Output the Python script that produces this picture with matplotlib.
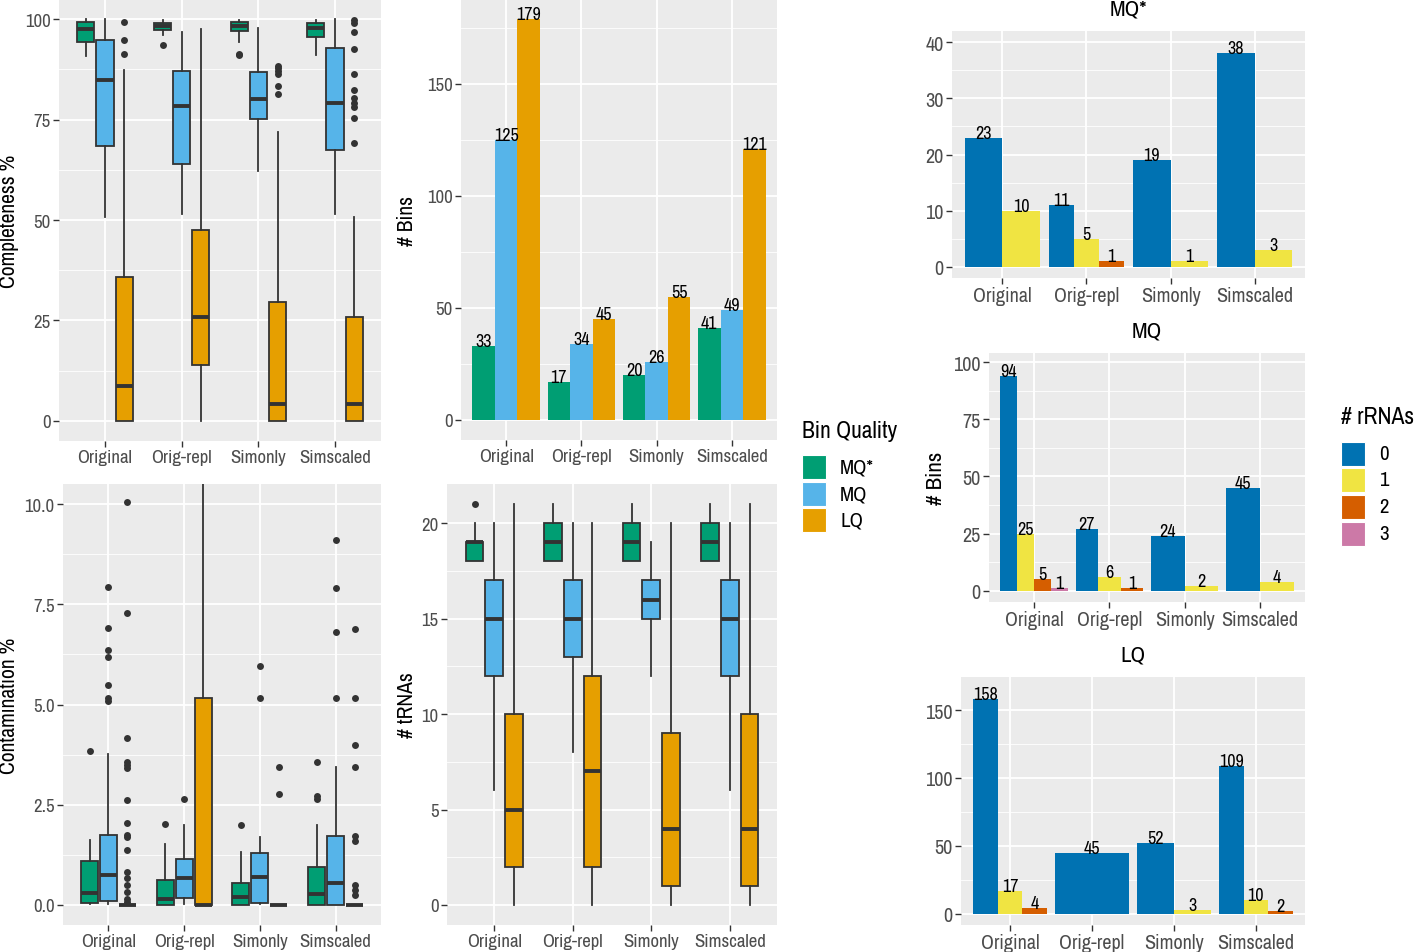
import numpy as np
import matplotlib
matplotlib.use("Agg")
import matplotlib.pyplot as plt
from matplotlib.patches import Rectangle

plt.rcParams["font.family"] = ["Archivo Narrow", "Liberation Sans", "DejaVu Sans"]

W, H = 1416, 953

DATASETS = ["Original", "Orig-repl", "Simonly", "Simscaled"]
QUALITIES = ["MQ*", "MQ", "LQ"]
Q_COLORS = ["#009E73", "#56B4E9", "#E69F00"]
RRNA_LEVELS = ["0", "1", "2", "3"]
RRNA_COLORS = ["#0072B2", "#F0E442", "#D55E00", "#CC79A7"]

# bin counts per quality (MQ*, MQ, LQ) for each dataset
BINS_MQSTAR = [33, 17, 20, 41]
BINS_MQ = [125, 34, 26, 49]
BINS_LQ = [179, 45, 55, 121]

# rRNA counts per dataset: bins with 0, 1, 2, 3 rRNAs (0 = absent)
RRNA_MQSTAR = [[23, 10, 0, 0], [11, 5, 1, 0], [19, 1, 0, 0], [38, 3, 0, 0]]
RRNA_MQ = [[94, 25, 5, 1], [27, 6, 1, 0], [24, 2, 0, 0], [45, 4, 0, 0]]
RRNA_LQ = [[158, 17, 4, 0], [45, 0, 0, 0], [52, 3, 0, 0], [109, 10, 2, 0]]

# box stats per dataset: (q1, median, q3, whisker low, whisker high)
COMPL_MQSTAR = [(94.4, 97.5, 99.3, 90.7, 100.0), (97.3, 98.2, 99.0, 96.0, 99.8),
                (97.1, 98.2, 99.4, 94.4, 99.8), (95.6, 97.9, 99.0, 91.1, 99.8)]
COMPL_MQSTAR_OUT = [[], [93.5], [91.0, 91.4], []]
COMPL_MQ = [(68.3, 84.9, 94.9, 50.7, 100.0), (64.0, 78.3, 87.1, 51.5, 96.9),
            (75.1, 80.1, 86.8, 62.1, 97.8), (67.5, 79.0, 92.8, 51.5, 100.0)]
COMPL_MQ_OUT = [[], [], [], []]
COMPL_LQ = [(0, 8.6, 35.9, 0, 87.3), (13.8, 25.9, 47.4, 0, 97.5),
            (0, 4.1, 29.5, 0, 72.0), (0, 4.1, 25.8, 0, 50.7)]
COMPL_LQ_OUT = [[99.4, 94.9, 91.3], [],
                [88.4, 87.8, 87.1, 86.3, 83.3, 81.3],
                [99.8, 99.0, 96.8, 92.5, 86.3, 82.4, 80.3, 79.2, 78.2, 75.5, 69.2]]

CONT_MQSTAR = [(0.04, 0.29, 1.09, 0.02, 1.63), (0, 0.15, 0.62, 0, 1.53),
               (0, 0.19, 0.54, 0, 1.33), (0, 0.27, 0.94, 0, 1.99)]
CONT_MQSTAR_OUT = [[3.85], [2.01], [1.99], [3.57, 2.71, 2.65]]
CONT_MQ = [(0.11, 0.75, 1.74, 0.02, 3.77), (0.17, 0.66, 1.14, 0.02, 1.99),
           (0.06, 0.70, 1.30, 0.02, 1.70), (0, 0.54, 1.72, 0, 3.44)]
CONT_MQ_OUT = [[7.94, 6.92, 6.36, 6.19, 5.49, 5.17, 5.09], [2.65], [5.95, 5.17],
               [9.11, 7.91, 6.82, 5.17]]
CONT_LQ = [(0, 0, 0, 0, 0), (0, 0, 5.17, 0, 12.9), (0, 0, 0, 0, 0), (0, 0, 0, 0, 0)]
CONT_LQ_OUT = [[10.05, 7.27, 4.17, 3.57, 3.48, 3.42, 2.63, 2.05, 1.74, 1.70, 1.38,
                0.83, 0.66, 0.50, 0.33, 0.14, 0.08],
               [], [3.44, 2.76],
               [6.89, 5.17, 4.0, 3.44, 1.72, 1.59, 0.50, 0.37, 0.25]]

TRNA_MQSTAR = [(18, 19, 19, 18, 20), (18, 19, 20, 18, 21), (18, 19, 20, 18, 21), (18, 19, 20, 18, 21)]
TRNA_MQSTAR_OUT = [[21], [], [], []]
TRNA_MQ = [(12, 15, 17, 6, 20), (13, 15, 17, 8, 20), (15, 16, 17, 12, 19), (12, 15, 17, 6, 20)]
TRNA_MQ_OUT = [[], [], [], []]
TRNA_LQ = [(2, 5, 10, 0, 21), (2, 7, 12, 0, 20), (1, 4, 9, 0, 20), (1, 4, 10, 0, 21)]
TRNA_LQ_OUT = [[], [], [], []]

BG = "#EBEBEB"
DARK = "#333333"
TICK_COL = "#4D4D4D"


def add_panel(fig, l, t, r, b):
    """Axes from pixel box (left, top, right, bottom)"""
    ax = fig.add_axes([l / W, 1 - b / H, (r - l) / W, (b - t) / H])
    ax.set_facecolor(BG)
    for s in ax.spines.values():
        s.set_visible(False)
    ax.set_axisbelow(True)
    return ax


def style_axes(ax, yticks, ylabels, ylim, minor, fs=13.5):
    ax.set_xlim(0.4, 4.6)
    ax.set_xticks(range(1, 5))
    ax.set_xticklabels(DATASETS, fontsize=fs, color=TICK_COL)
    ax.set_ylim(*ylim)
    ax.set_yticks(yticks)
    ax.set_yticklabels(ylabels, fontsize=fs, color=TICK_COL)
    ax.set_yticks(minor, minor=True)
    ax.tick_params(which="major", length=4, width=1, color=DARK, pad=2)
    ax.tick_params(which="minor", length=0)
    ax.grid(which="major", color="white", lw=1.3)
    ax.grid(which="minor", axis="y", color="white", lw=0.6)


def ylabel_at(ax, text, x_px, l, r, fs=15.5):
    ax.set_ylabel(text, fontsize=fs, ha="center", va="center")
    ax.yaxis.set_label_coords((x_px - l) / (r - l), 0.5)


def boxplots(ax, groups):
    for qi, (stats5, outs) in enumerate(groups):
        stats = []
        for (q1, med, q3, lo, hi), fl in zip(stats5, outs):
            stats.append(dict(q1=q1, med=med, q3=q3, whislo=lo, whishi=hi, fliers=fl))
        ax.bxp(stats, positions=np.arange(1, 5) + (qi - 1) * 0.25, widths=0.225,
               patch_artist=True, showcaps=False, manage_ticks=False,
               boxprops=dict(facecolor=Q_COLORS[qi], edgecolor=DARK, lw=1.3),
               medianprops=dict(color=DARK, lw=2.8, solid_capstyle="butt"),
               whiskerprops=dict(color=DARK, lw=1.3),
               flierprops=dict(marker="o", markerfacecolor=DARK, markeredgecolor="none",
                               markersize=5))


def dodge_bars(ax, counts_by_group, colors, fs=13):
    for gi, counts in enumerate(counts_by_group):
        present = [(i, c) for i, c in enumerate(counts) if c > 0]
        n = len(present)
        w = 0.9 / n
        for k, (i, c) in enumerate(present):
            x = gi + 1 - 0.45 + w * (k + 0.5)
            ax.bar(x, c, width=w, color=colors[i], lw=0)
            ax.text(x, c, str(c), ha="center", va="baseline", fontsize=fs, color="black")


fig = plt.figure(figsize=(W / 100, H / 100), dpi=100)

# Completeness
ax = add_panel(fig, 59, 0, 381, 442)
style_axes(ax, [0, 25, 50, 75, 100], ["0", "25", "50", "75", "100"], (-5, 105),
           [12.5, 37.5, 62.5, 87.5])
boxplots(ax, [(COMPL_MQSTAR, COMPL_MQSTAR_OUT), (COMPL_MQ, COMPL_MQ_OUT), (COMPL_LQ, COMPL_LQ_OUT)])
ylabel_at(ax, "Completeness %", 9, 59, 381)

# Number of bins
ax = add_panel(fig, 461, 0, 777, 441)
style_axes(ax, [0, 50, 100, 150], ["0", "50", "100", "150"], (-8.95, 187.95), [25, 75, 125, 175])
bin_counts = [[BINS_MQSTAR[i], BINS_MQ[i], BINS_LQ[i]] for i in range(4)]
dodge_bars(ax, bin_counts, Q_COLORS)
ylabel_at(ax, "# Bins", 407, 461, 777)

# Contamination
ax = add_panel(fig, 63, 485, 381, 926)
style_axes(ax, [0, 2.5, 5, 7.5, 10], ["0.0", "2.5", "5.0", "7.5", "10.0"], (-0.5, 10.5),
           [1.25, 3.75, 6.25, 8.75])
boxplots(ax, [(CONT_MQSTAR, CONT_MQSTAR_OUT), (CONT_MQ, CONT_MQ_OUT), (CONT_LQ, CONT_LQ_OUT)])
ylabel_at(ax, "Contamination %", 9, 63, 381)

# tRNAs
ax = add_panel(fig, 447, 485, 777, 926)
style_axes(ax, [0, 5, 10, 15, 20], ["0", "5", "10", "15", "20"], (-1.05, 22.05),
           [2.5, 7.5, 12.5, 17.5])
boxplots(ax, [(TRNA_MQSTAR, TRNA_MQSTAR_OUT), (TRNA_MQ, TRNA_MQ_OUT), (TRNA_LQ, TRNA_LQ_OUT)])
ylabel_at(ax, "# tRNAs", 407, 447, 777)

# rRNA panels
right_panels = [
    ("MQ*", RRNA_MQSTAR, (952, 32, 1305, 279), [0, 10, 20, 30, 40], (-2, 42), [5, 15, 25, 35], 1128),
    ("MQ", RRNA_MQ, (989, 354, 1305, 603), [0, 25, 50, 75, 100], (-4.95, 103.95), [12.5, 37.5, 62.5, 87.5], 1147),
    ("LQ", RRNA_LQ, (961, 678, 1305, 926), [0, 50, 100, 150], (-8.3, 174.3), [25, 75, 125], 1133),
]
for title, counts, box, yt, ylim, minor, tx in right_panels:
    l, t, r, b = box
    ax = add_panel(fig, l, t, r, b)
    style_axes(ax, yt, [str(v) for v in yt], ylim, minor, fs=14.5)
    dodge_bars(ax, counts, RRNA_COLORS)
    fig.text(tx / W, 1 - (t - 22) / H, title, ha="center", va="center", fontsize=16.5)
    if title == "MQ":
        ylabel_at(ax, "# Bins", 936, l, r, fs=16.5)


# legends
def legend(title, labels, colors, x, ytitle, ykeys):
    fig.text(x / W, 1 - ytitle / H, title, ha="left", va="center", fontsize=17)
    for lab, col, yk in zip(labels, colors, ykeys):
        fig.add_artist(Rectangle((x / W, 1 - (yk + 24) / H), 24 / W, 24 / H,
                                 transform=fig.transFigure, facecolor=col, edgecolor="white", lw=0.8))
        fig.text((x + 38) / W, 1 - (yk + 12) / H, lab, ha="left", va="center", fontsize=15)


legend("Bin Quality", QUALITIES, Q_COLORS, 802, 432, [456, 483, 509])
legend("# rRNAs", RRNA_LEVELS, RRNA_COLORS, 1341, 418, [443, 469, 496, 523])

fig.savefig("out.png", dpi=100)
